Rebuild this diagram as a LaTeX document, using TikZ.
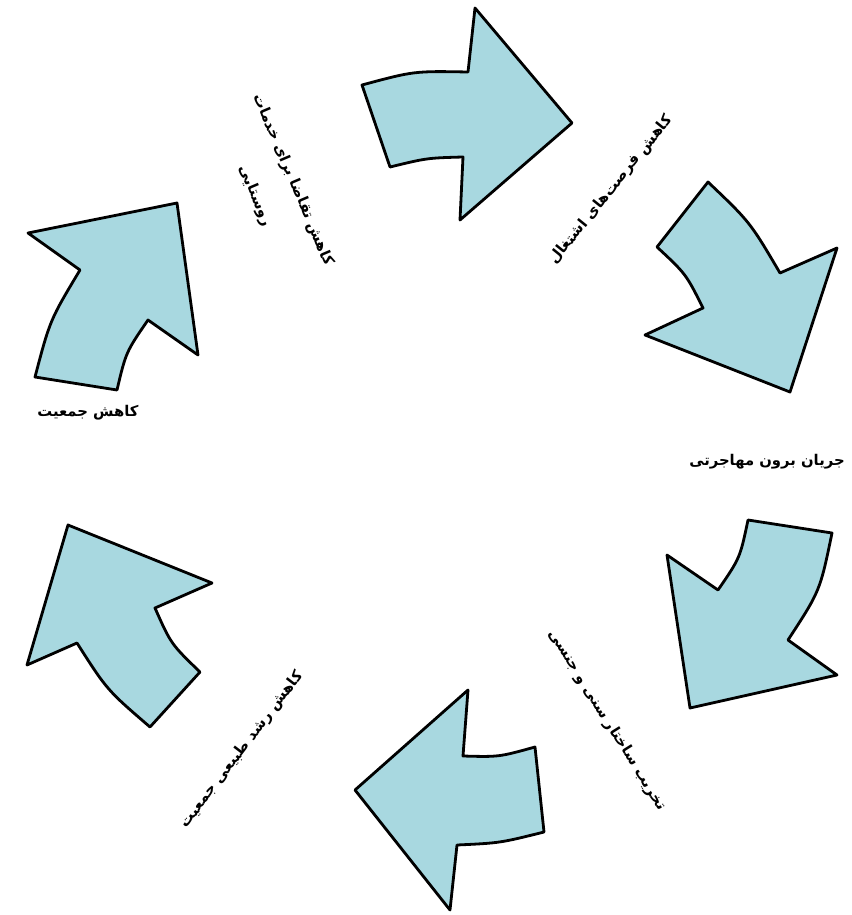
\documentclass[tikz,border=0pt]{standalone}
\usepackage{fontspec}
\newfontfamily\arabicfont[Script=Arabic]{DejaVu Sans}
\TeXXeTstate=1
\usepackage{tikz}

\definecolor{arrowblue}{RGB}{168,216,224}

\tikzset{
  cyclearrow/.style={fill=arrowblue,draw=black,line width=2.8pt,line join=round},
  fatext/.style={font=\arabicfont\bfseries\fontsize{14.8}{21}\selectfont,inner sep=0pt,align=center}
}

\begin{document}
\begin{tikzpicture}[x=1pt,y=-1pt]
  \useasboundingbox (0,0) rectangle (851,915);
  \filldraw[cyclearrow] (362,85) .. controls (414,71) .. (468,72) -- (475,8) -- (572,123) -- (460,220)
    -- (463,157) .. controls (427,158) .. (390,167) -- cycle;
  \filldraw[cyclearrow] (708,182) .. controls (750,222) .. (780,273) -- (837,248) -- (790,392) -- (645,335)
    -- (703,308) .. controls (686,274) .. (657,247) -- cycle;
  \filldraw[cyclearrow] (748,520) -- (832,533) .. controls (820,591) .. (788,640) -- (837,675) -- (690,708)
    -- (667,555) -- (718,590) .. controls (740,558) .. (748,520) -- cycle;
  \filldraw[cyclearrow] (468,690) -- (463,756) .. controls (499,757) .. (535,747) -- (544,832)
    .. controls (500,843) .. (457,845) -- (450,910) -- (355,790) -- cycle;
  \filldraw[cyclearrow] (68,525) -- (212,583) -- (155,608) .. controls (171,644) .. (200,672) -- (150,727)
    .. controls (107,690) .. (77,643) -- (27,665) -- cycle;
  \filldraw[cyclearrow] (28,233) -- (177,203) -- (198,355) -- (148,320) .. controls (126,352) .. (117,390)
    -- (35,377) .. controls (50,320) .. (80,270) -- cycle;
  \node[fatext,rotate=-67] (services) at (274,188) {\beginR کاهش تقاضا برای خدمات\endR\\[20pt]\beginR روستایی\endR};
  \node[fatext,rotate=51] (jobs) at (611,190) {\beginR کاهش فرصت‌های اشتغال\endR};
  \node[fatext] (migration) at (767,462) {\beginR جریان برون مهاجرتی\endR};
  \node[fatext] (population) at (88,413) {\beginR کاهش جمعیت\endR};
  \node[fatext,rotate=-58] (structure) at (607,720) {\beginR تخریب ساختار سنی و جنسی\endR};
  \node[fatext,rotate=52.5] (growth) at (242,750) {\beginR کاهش رشد طبیعی جمعیت\endR};
\end{tikzpicture}
\end{document}
